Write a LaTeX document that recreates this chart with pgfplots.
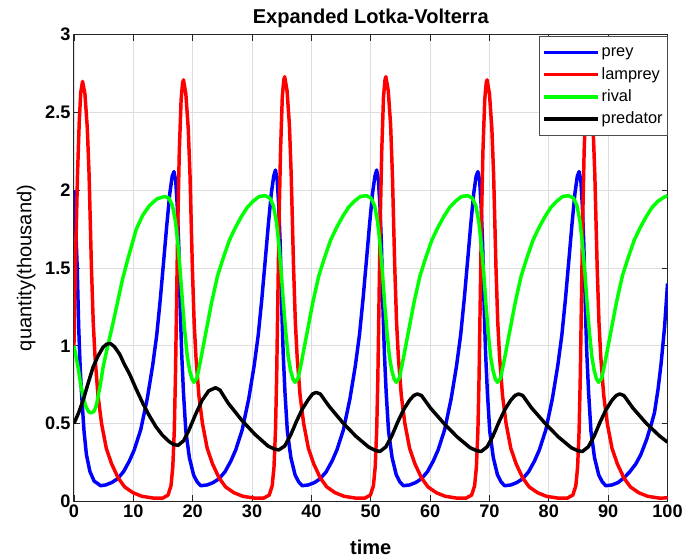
\documentclass[border=0pt]{standalone}
\usepackage{fontspec}
\setmainfont{Liberation Sans}
\usepackage{pgfplots}
\pgfplotsset{compat=1.18}

\newcommand\tickfont{\bfseries\fontsize{18.3}{20}\selectfont}
\newcommand\titlefont{\bfseries\fontsize{20.2}{22}\selectfont}
\newcommand\labfont{\fontsize{20.2}{22}\selectfont}
\newcommand\legfont{\fontsize{16.5}{18}\selectfont}

\begin{document}
\begin{tikzpicture}
\begin{axis}[
    name=ax,
    scale only axis,
    width=598pt, height=470pt,
    xmin=0, xmax=100, ymin=0, ymax=3,
    xtick={0,10,...,100},
    ytick={0,0.5,1,1.5,2,2.5,3},
    tick align=inside, tick pos=both,
    major tick length=6pt,
    axis line style={black!85, line width=1pt},
    tick style={black!85, line width=0.8pt},
    grid=major,
    major grid style={black!13, line width=0.8pt},
    ticklabel style={font=\tickfont},
    /pgf/number format/assume math mode=true,
    title={Expanded Lotka-Volterra},
    title style={font=\titlefont, at={(axis description cs:0.5,1.0117)}, anchor=base},
    xlabel={time},
    xlabel style={font=\labfont\bfseries, at={(axis description cs:0.5,-0.1149)}, anchor=base},
    ylabel={quantity(thousand)},
    ylabel style={font=\labfont, at={(axis description cs:-0.0805,0.5)}, anchor=center},
    legend cell align=left,
    legend image code/.code={\draw[#1] (0pt,0pt) -- (54pt,0pt);},
    legend style={at={(1,1)}, anchor=north east, xshift=0.5pt, yshift=-1.5pt,
        draw=black!70, line width=0.8pt, fill=white, font=\legfont,
        inner xsep=3pt, inner ysep=6pt, row sep=2.1pt,
        nodes={inner sep=2pt, text height=12.5pt, text depth=3.7pt}},
    every axis plot/.append style={line width=3.5pt, line join=round},
]
\addplot[blue] coordinates {
(0,2.00) (0.15,1.90) (0.3,1.76) (0.55,1.50) (0.8,1.12) (1.05,0.86) (1.3,0.68) (1.7,0.45) (2.1,0.30) (2.7,0.19) (3.4,0.13) (4.5,0.10)
(5.35,0.105) (6.35,0.12) (7.35,0.145) (8.35,0.19) (9.35,0.26) (10.15,0.33) (11.25,0.46) (12.35,0.66) (13.25,0.87) (13.95,1.07) (14.55,1.30) (15.15,1.56) (15.65,1.78) (16.15,1.98) (16.55,2.09) (16.85,2.12) (17.15,2.06) (17.4,1.90) (17.65,1.65) (17.9,1.25) (18.15,0.95) (18.45,0.70) (18.85,0.45) (19.45,0.28) (20.15,0.17) (20.75,0.125) (21.35,0.10)
(22.45,0.105) (23.45,0.12) (24.45,0.145) (25.45,0.19) (26.45,0.26) (27.25,0.33) (28.35,0.46) (29.45,0.66) (30.35,0.87) (31.05,1.07) (31.65,1.30) (32.25,1.56) (32.75,1.78) (33.25,1.98) (33.65,2.09) (33.95,2.13) (34.25,2.06) (34.5,1.90) (34.75,1.65) (35.0,1.25) (35.25,0.95) (35.55,0.70) (35.95,0.45) (36.55,0.28) (37.25,0.17) (37.85,0.125) (38.45,0.10)
(39.5,0.105) (40.5,0.12) (41.5,0.145) (42.5,0.19) (43.5,0.26) (44.3,0.33) (45.4,0.46) (46.5,0.66) (47.4,0.87) (48.1,1.07) (48.7,1.30) (49.3,1.56) (49.8,1.78) (50.3,1.98) (50.7,2.09) (51.0,2.13) (51.3,2.06) (51.55,1.90) (51.8,1.65) (52.05,1.25) (52.3,0.95) (52.6,0.70) (53.0,0.45) (53.6,0.28) (54.3,0.17) (54.9,0.125) (55.5,0.10)
(56.55,0.105) (57.55,0.12) (58.55,0.145) (59.55,0.19) (60.55,0.26) (61.35,0.33) (62.45,0.46) (63.55,0.66) (64.45,0.87) (65.15,1.07) (65.75,1.30) (66.35,1.56) (66.85,1.78) (67.35,1.98) (67.75,2.09) (68.05,2.12) (68.35,2.06) (68.6,1.90) (68.85,1.65) (69.1,1.25) (69.35,0.95) (69.65,0.70) (70.05,0.45) (70.65,0.28) (71.35,0.17) (71.95,0.125) (72.55,0.10)
(73.6,0.105) (74.6,0.12) (75.6,0.145) (76.6,0.19) (77.6,0.26) (78.4,0.33) (79.5,0.46) (80.6,0.66) (81.5,0.87) (82.2,1.07) (82.8,1.30) (83.4,1.56) (83.9,1.78) (84.4,1.98) (84.8,2.09) (85.1,2.12) (85.4,2.06) (85.65,1.90) (85.9,1.65) (86.15,1.25) (86.4,0.95) (86.7,0.70) (87.1,0.45) (87.7,0.28) (88.4,0.17) (89.0,0.125) (89.6,0.10)
(90.65,0.105) (91.65,0.12) (92.65,0.15) (93.65,0.19) (94.65,0.24) (95.5,0.30) (96.5,0.40) (97.3,0.50) (97.8,0.57) (98.4,0.72) (98.9,0.88) (99.5,1.12) (100,1.40)
};
\addlegendentry{prey}
\addplot[red] coordinates {
(0,1.00) (0.3,1.60) (0.6,2.10) (0.9,2.45) (1.15,2.63) (1.45,2.70) (1.85,2.62) (2.25,2.40) (2.55,2.10) (2.75,1.80) (2.95,1.50) (3.25,1.15) (3.55,0.93) (4.05,0.68) (4.65,0.50) (5.45,0.34) (6.35,0.24) (7.45,0.15) (8.55,0.092) (9.95,0.055) (11.45,0.032) (13.45,0.02) (14.95,0.02)
(15.85,0.04) (16.35,0.10) (16.65,0.22) (16.9,0.45) (17.1,0.80) (17.3,1.30) (17.5,1.80) (17.75,2.25) (18.05,2.58) (18.3,2.69) (18.45,2.71) (18.85,2.62) (19.25,2.40) (19.55,2.10) (19.75,1.80) (19.95,1.50) (20.25,1.15) (20.55,0.93) (21.05,0.68) (21.65,0.50) (22.45,0.34) (23.35,0.24) (24.45,0.15) (25.55,0.092) (26.95,0.055) (28.45,0.032) (30.45,0.02) (31.95,0.02)
(32.9,0.04) (33.4,0.10) (33.7,0.22) (33.95,0.45) (34.15,0.80) (34.35,1.30) (34.55,1.80) (34.8,2.25) (35.1,2.60) (35.35,2.71) (35.5,2.73) (35.9,2.64) (36.3,2.42) (36.6,2.10) (36.8,1.80) (37.0,1.50) (37.3,1.15) (37.6,0.93) (38.1,0.68) (38.7,0.50) (39.5,0.34) (40.4,0.24) (41.5,0.15) (42.6,0.092) (44.0,0.055) (45.5,0.032) (47.5,0.02) (49.0,0.02)
(49.95,0.04) (50.45,0.10) (50.75,0.22) (51.0,0.45) (51.2,0.80) (51.4,1.30) (51.6,1.80) (51.85,2.25) (52.15,2.60) (52.4,2.71) (52.55,2.73) (52.95,2.64) (53.35,2.42) (53.65,2.10) (53.85,1.80) (54.05,1.50) (54.35,1.15) (54.65,0.93) (55.15,0.68) (55.75,0.50) (56.55,0.34) (57.45,0.24) (58.55,0.15) (59.65,0.092) (61.05,0.055) (62.55,0.032) (64.55,0.02) (66.05,0.02)
(67.0,0.04) (67.5,0.10) (67.8,0.22) (68.05,0.45) (68.25,0.80) (68.45,1.30) (68.65,1.80) (68.9,2.25) (69.2,2.58) (69.45,2.69) (69.6,2.71) (70.0,2.62) (70.4,2.40) (70.7,2.10) (70.9,1.80) (71.1,1.50) (71.4,1.15) (71.7,0.93) (72.2,0.68) (72.8,0.50) (73.6,0.34) (74.5,0.24) (75.6,0.15) (76.7,0.092) (78.1,0.055) (79.6,0.032) (81.6,0.02) (83.1,0.02)
(84.05,0.04) (84.55,0.10) (84.85,0.22) (85.1,0.45) (85.3,0.80) (85.5,1.30) (85.7,1.80) (85.95,2.25) (86.25,2.59) (86.5,2.70) (86.65,2.72) (87.05,2.63) (87.45,2.41) (87.75,2.10) (87.95,1.80) (88.15,1.50) (88.45,1.15) (88.75,0.93) (89.25,0.68) (89.85,0.50) (90.65,0.34) (91.55,0.24) (92.65,0.15) (93.75,0.092) (95.15,0.055) (96.65,0.032) (98.65,0.02) (100,0.022)
};
\addlegendentry{lamprey}
\addplot[green] coordinates {
(0,1.00) (0.35,0.93) (0.7,0.86) (1.1,0.76) (1.55,0.67) (2.0,0.61) (2.5,0.575) (2.95,0.568) (3.4,0.58) (3.8,0.62) (4.4,0.74) (4.9,0.86) (5.7,1.00) (6.55,1.14) (7.4,1.29) (8.2,1.43) (9.1,1.56) (10.5,1.75) (11.6,1.84) (12.7,1.90) (14.0,1.945) (15.3,1.96) (16.0,1.95) (16.6,1.90) (17.1,1.80) (17.5,1.66) (17.9,1.48) (18.3,1.27) (18.7,1.08) (19.1,0.93) (19.5,0.84) (19.9,0.785) (20.2,0.765)
(20.7,0.79) (21.2,0.88) (22.2,1.08) (23.2,1.28) (24.2,1.45) (25.2,1.57) (26.2,1.68) (27.2,1.76) (28.2,1.83) (29.2,1.89) (30.2,1.93) (31.2,1.96) (32.2,1.965) (33.0,1.95) (33.6,1.90) (34.1,1.80) (34.5,1.66) (34.9,1.48) (35.3,1.27) (35.7,1.08) (36.1,0.93) (36.5,0.84) (36.9,0.785) (37.25,0.765)
(37.75,0.79) (38.25,0.88) (39.25,1.08) (40.25,1.28) (41.25,1.45) (42.25,1.57) (43.25,1.68) (44.25,1.76) (45.25,1.83) (46.25,1.89) (47.25,1.93) (48.25,1.96) (49.25,1.965) (50.05,1.95) (50.65,1.90) (51.15,1.80) (51.55,1.66) (51.95,1.48) (52.35,1.27) (52.75,1.08) (53.15,0.93) (53.55,0.84) (53.95,0.785) (54.3,0.765)
(54.8,0.79) (55.3,0.88) (56.3,1.08) (57.3,1.28) (58.3,1.45) (59.3,1.57) (60.3,1.68) (61.3,1.76) (62.3,1.83) (63.3,1.89) (64.3,1.93) (65.3,1.96) (66.3,1.965) (67.1,1.95) (67.7,1.90) (68.2,1.80) (68.6,1.66) (69.0,1.48) (69.4,1.27) (69.8,1.08) (70.2,0.93) (70.6,0.84) (71.0,0.785) (71.35,0.765)
(71.85,0.79) (72.35,0.88) (73.35,1.08) (74.35,1.28) (75.35,1.45) (76.35,1.57) (77.35,1.68) (78.35,1.76) (79.35,1.83) (80.35,1.89) (81.35,1.93) (82.35,1.96) (83.35,1.965) (84.15,1.95) (84.75,1.90) (85.25,1.80) (85.65,1.66) (86.05,1.48) (86.45,1.27) (86.85,1.08) (87.25,0.93) (87.65,0.84) (88.05,0.785) (88.4,0.765)
(88.9,0.79) (89.4,0.88) (90.4,1.08) (91.4,1.28) (92.4,1.45) (93.4,1.57) (94.4,1.68) (95.4,1.76) (96.4,1.83) (97.4,1.89) (98.4,1.93) (99.4,1.955) (100,1.965)
};
\addlegendentry{rival}
\addplot[black] coordinates {
(0,0.50) (0.8,0.57) (1.55,0.65) (2.4,0.76) (3.2,0.86) (4.0,0.93) (4.9,0.99) (5.5,1.01) (6.1,1.015) (6.8,0.995) (7.7,0.946) (8.5,0.88) (9.35,0.82) (10.5,0.72) (11.6,0.63) (12.7,0.55) (13.8,0.48) (14.9,0.425) (16.0,0.385) (16.8,0.365) (17.55,0.36)
(18.5,0.39) (19.4,0.46) (20.5,0.56) (21.6,0.65) (22.7,0.71) (23.85,0.73) (24.6,0.715) (26.0,0.63) (28.3,0.52) (30.5,0.43) (32.7,0.355) (33.7,0.337) (34.5,0.33)
(35.5,0.355) (36.5,0.425) (37.5,0.515) (38.5,0.595) (39.5,0.655) (40.2,0.69) (40.8,0.70) (41.5,0.69) (43.0,0.61) (45.3,0.505) (47.5,0.418) (49.7,0.347) (50.8,0.327) (51.55,0.32)
(52.55,0.35) (53.55,0.42) (54.55,0.51) (55.55,0.59) (56.55,0.65) (57.25,0.68) (57.85,0.69) (58.55,0.68) (60.05,0.60) (62.35,0.50) (64.55,0.414) (66.75,0.344) (67.85,0.325) (68.6,0.32)
(69.6,0.35) (70.6,0.42) (71.6,0.51) (72.6,0.59) (73.6,0.65) (74.3,0.68) (74.9,0.69) (75.6,0.68) (77.1,0.60) (79.4,0.50) (81.6,0.414) (83.8,0.344) (84.9,0.325) (85.65,0.32)
(86.65,0.35) (87.65,0.42) (88.65,0.51) (89.65,0.59) (90.65,0.65) (91.35,0.68) (91.95,0.69) (92.65,0.68) (94.15,0.60) (96.45,0.50) (98.65,0.42) (100,0.38)
};
\addlegendentry{predator}
\end{axis}
\path ([shift={(-74.5pt,-55pt)}]ax.south west) rectangle ([shift={(13.5pt,35pt)}]ax.north east);
\end{tikzpicture}
\end{document}
